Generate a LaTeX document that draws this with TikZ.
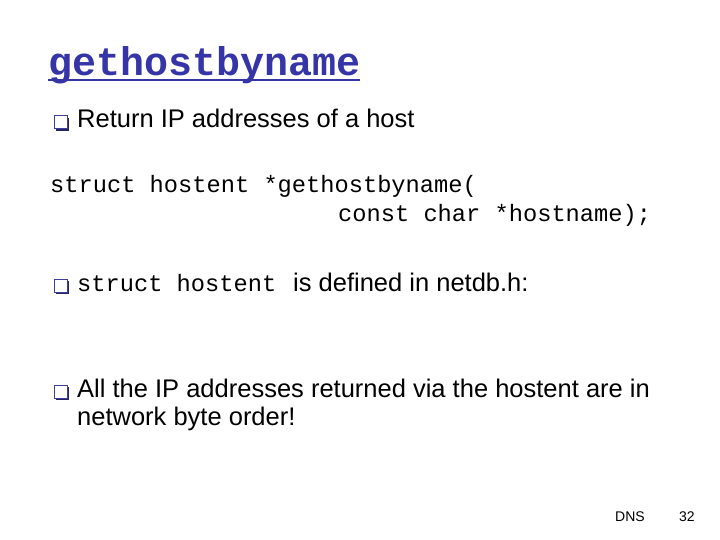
\documentclass[tikz,border=0pt]{standalone}
\usepackage{fontspec}
\usetikzlibrary{calc}
\setmainfont{Liberation Sans}
\setmonofont{Liberation Mono}
\definecolor{ttl}{HTML}{3535A8}
\definecolor{bul}{HTML}{3F3F9F}
\tikzset{txt/.style={anchor=base west,inner sep=0pt,font=\fontsize{25.5}{28}\selectfont},
 code/.style={anchor=base west,inner sep=0pt,font=\ttfamily\fontsize{23.7}{26}\selectfont},
 bx/.style={draw=bul,line width=1pt,fill=white}}
\newcommand{\bulletbox}[2]{%
 \fill[bul!60!black] (#1+2,#2+2) rectangle (#1+15,#2-11);
 \draw[bx] (#1,#2) rectangle (#1+13,#2-13);}
\begin{document}
\begin{tikzpicture}[x=1pt,y=-1pt]
\useasboundingbox[fill=white] (0,0) rectangle (720,540);
\node[anchor=base west,inner sep=0pt,text=ttl,font=\ttfamily\bfseries\fontsize{40}{44}\selectfont] (title) at (48,76) {gethostbyname};
\draw[ttl,line width=1.5pt] ($(title.base west)+(0,4)$) -- ($(title.base east)+(0,4)$);
\bulletbox{54}{129}
\node[txt] (b1) at (77,128) {Return IP addresses of a host};
\node[code] (c1) at (50,193) {struct hostent *gethostbyname(};
\node[code] (c2) at (338,222) {const char *hostname);};
\bulletbox{54}{292}
\node[code] (b2a) at (77,291) {struct hostent};
\node[txt] (b2b) at (293,291) {is defined in netdb.h:};
\bulletbox{54}{398}
\node[txt] (b3) at (77,397) {All the IP addresses returned via the hostent are in};
\node[txt] (b3b) at (77,425) {network byte order!};
\node[anchor=base west,inner sep=0pt,font=\fontsize{14}{16}\selectfont] (dns) at (615,521) {DNS};
\node[anchor=base west,inner sep=0pt,font=\fontsize{14}{16}\selectfont] (pg) at (679,521) {32};
\end{tikzpicture}
\end{document}
